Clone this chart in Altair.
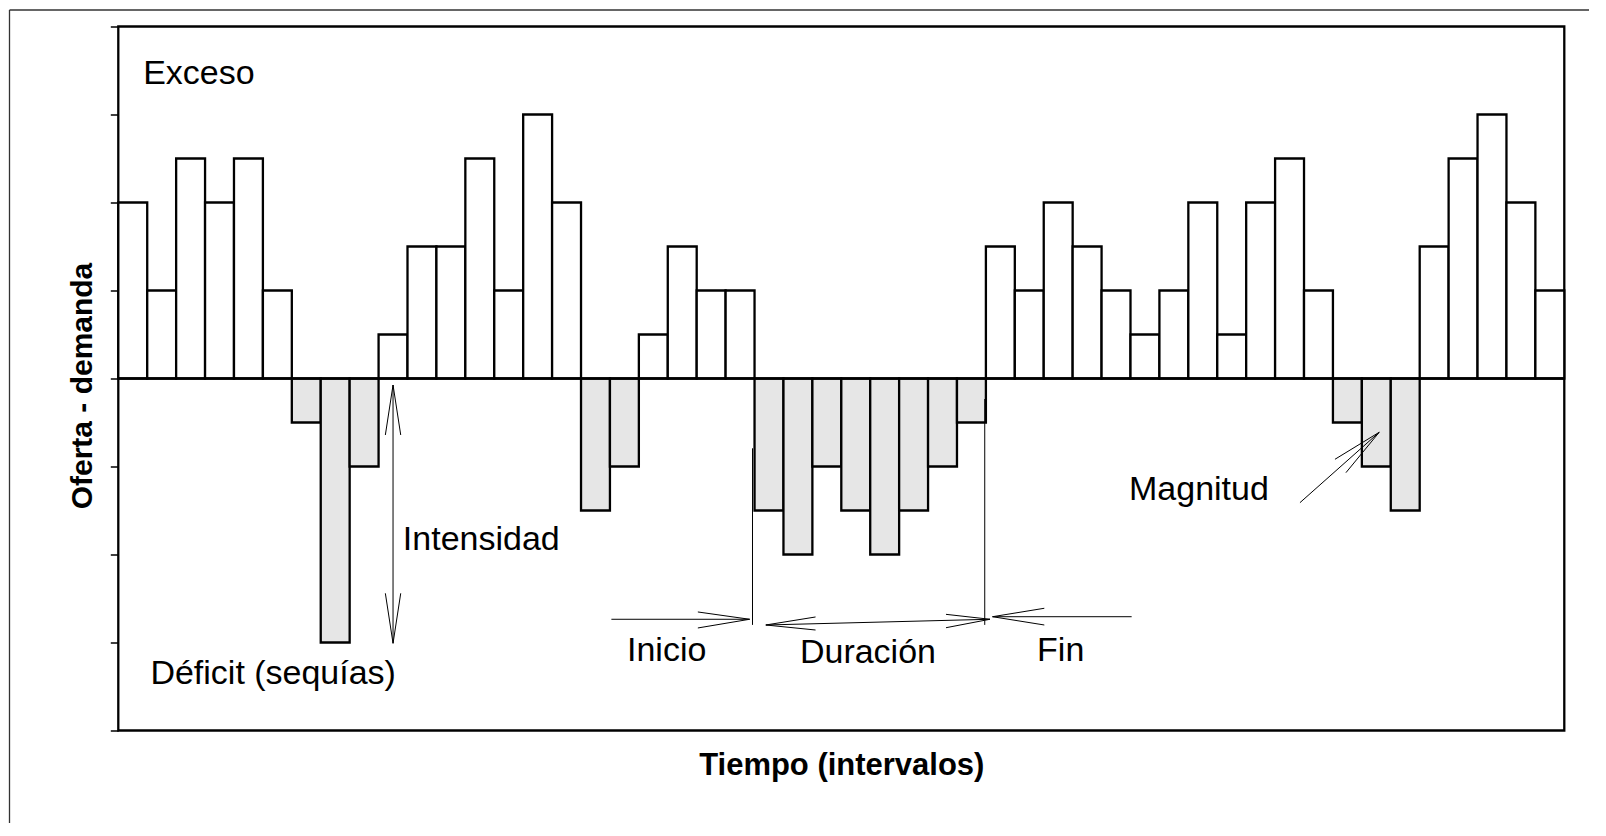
import altair as alt
import pandas as pd

# ---- data -------------------------------------------------------------
values = [2, 1, 2.5, 2, 2.5, 1, -0.5, -3, -1, 0.5,
          1.5, 1.5, 2.5, 1, 3, 2, -1.5, -1, 0.5, 1.5,
          1, 1, -1.5, -2, -1, -1.5, -2, -1.5, -1, -0.5,
          1.5, 1, 2, 1.5, 1, 0.5, 1, 2, 0.5, 2,
          2.5, 1, -0.5, -1, -1.5, 1.5, 2.5, 3, 2, 1]
y_ticks = [-4, -3, -2, -1, 0, 1, 2, 3, 4]

label_text = ["Exceso", "Déficit (sequías)", "Intensidad", "Inicio",
              "Duración", "Fin", "Magnitud"]
label_x = [0.86, 1.11, 9.84, 17.59, 23.57, 31.77, 34.95]
label_y = [3.35, -3.47, -1.95, -3.21, -3.23, -3.21, -1.38]

# annotation segments (data units): x1, y1, x2, y2
seg_x1 = [9.5, 9.5, 9.5, 9.5, 9.5,
          21.93, 29.96,
          17.05, 21.83, 21.83,
          22.39, 22.39, 22.39, 30.14, 30.14,
          35.04, 30.23, 30.23,
          40.86, 43.60, 43.60]
seg_y1 = [-0.074, -0.074, -0.074, -3.009, -3.009,
          -0.793, -0.233,
          -2.736, -2.736, -2.736,
          -2.801, -2.801, -2.801, -2.736, -2.736,
          -2.707, -2.707, -2.707,
          -1.411, -0.611, -0.611]
seg_x2 = [9.5, 9.234, 9.766, 9.234, 9.766,
          21.93, 29.96,
          21.83, 20.04, 20.04,
          30.14, 24.11, 24.11, 28.62, 28.62,
          30.23, 32.02, 32.02,
          43.60, 42.07, 42.45]
seg_y2 = [-3.009, -0.642, -0.642, -2.441, -2.441,
          -2.80, -2.80,
          -2.736, -2.653, -2.835,
          -2.736, -2.71, -2.858, -2.68, -2.832,
          -2.707, -2.611, -2.801,
          -0.611, -0.918, -1.070]

# ---- tables -----------------------------------------------------------
bars_df = pd.DataFrame({
    "start": list(range(len(values))),
    "end": [i + 1 for i in range(len(values))],
    "value": values,
    "zero": [0] * len(values),
    "sign": ["pos" if v > 0 else "neg" for v in values],
})
labels_df = pd.DataFrame({"text": label_text, "x": label_x, "y": label_y})
seg_df = pd.DataFrame({"x": seg_x1, "y": seg_y1, "x2": seg_x2, "y2": seg_y2})
one_df = pd.DataFrame({"a": [0]})

FONT = "Liberation Sans"
W, H = 1446, 704

x_scale = alt.Scale(domain=[0, 50], nice=False, zero=False)
y_scale = alt.Scale(domain=[-4, 4], nice=False, zero=False)

x_axis = alt.Axis(labels=False, ticks=False, domain=False, grid=False,
                  title="Tiempo (intervalos)", titleFont=FONT, titleFontSize=31,
                  titleFontWeight="bold", titleColor="black",
                  titleX=W / 2, titleY=44, titleAlign="center",
                  titleBaseline="alphabetic")
y_axis = alt.Axis(values=y_ticks, labels=False, ticks=True, tickSize=8,
                  tickWidth=1.5, tickColor="black", domain=False, grid=False,
                  title="Oferta - demanda", titleFont=FONT, titleFontSize=30,
                  titleFontWeight="bold", titleColor="black", titleAngle=270,
                  titleX=-26.5, titleY=359, titleAlign="center",
                  titleBaseline="alphabetic")

bars = alt.Chart(bars_df).mark_rect(stroke="black", strokeWidth=2.3).encode(
    x=alt.X("start:Q", scale=x_scale, axis=x_axis),
    x2="end:Q",
    y=alt.Y("value:Q", scale=y_scale, axis=y_axis),
    y2="zero:Q",
    fill=alt.Fill("sign:N",
                  scale=alt.Scale(domain=["pos", "neg"], range=["#ffffff", "#e6e6e6"]),
                  legend=None),
)

zero_line = alt.Chart(one_df).mark_rule(color="black", strokeWidth=2.3).encode(
    y=alt.Y("a:Q", scale=y_scale),
)

segments = alt.Chart(seg_df).mark_rule(color="black", strokeWidth=1).encode(
    x=alt.X("x:Q", scale=x_scale), y=alt.Y("y:Q", scale=y_scale),
    x2="x2:Q", y2="y2:Q",
)

labels = alt.Chart(labels_df).mark_text(
    font=FONT, fontSize=34, color="black", align="left", baseline="alphabetic"
).encode(
    x=alt.X("x:Q", scale=x_scale), y=alt.Y("y:Q", scale=y_scale), text="text:N",
)

frame_left = alt.Chart(one_df).mark_rule(color="#333333", strokeWidth=1.3).encode(
    x=alt.value(-108.8), y=alt.value(-16.5), y2=alt.value(1000)
)
frame_top = alt.Chart(one_df).mark_rule(color="#333333", strokeWidth=1.3).encode(
    x=alt.value(-108.8), x2=alt.value(2000), y=alt.value(-16.5)
)

chart = alt.layer(frame_left, frame_top, bars, zero_line, segments, labels).properties(
    width=W, height=H, autosize="none",
    padding={"left": 110.3, "top": 18.5, "right": 25, "bottom": 92},
).configure(background="white").configure_view(stroke="black", strokeWidth=2.3)

chart.save("out.html", embed_options={"renderer": "svg", "actions": False})
